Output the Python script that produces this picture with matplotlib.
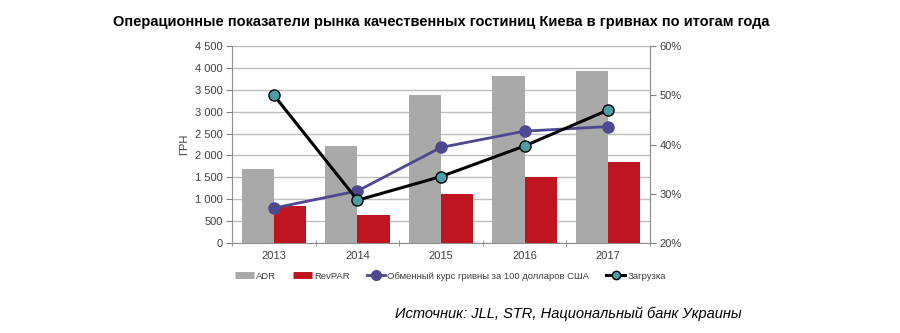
import matplotlib
matplotlib.use("Agg")
import matplotlib.pyplot as plt
from matplotlib.lines import Line2D
from matplotlib.ticker import FuncFormatter, MultipleLocator
import numpy as np

plt.rcParams['font.family'] = ['Liberation Sans', 'DejaVu Sans']

years = ["2013", "2014", "2015", "2016", "2017"]
adr = [1680, 2210, 3380, 3820, 3920]
revpar = [840, 640, 1130, 1520, 1840]
fx_rate = [800, 1190, 2184, 2555, 2660]
occupancy = [50.0, 28.7, 33.5, 39.7, 47.0]

title = "Операционные показатели рынка качественных гостиниц Киева в гривнах по итогам года"
ylabel = "ГРН"
legend_labels = ["ADR", "RevPAR", "Обменный курс гривны за 100 долларов США", "Загрузка"]
source = "Источник: JLL, STR, Национальный банк Украины"

c_adr = "#A9A9A9"
c_rev = "#BF1520"
c_fx = "#4E4891"
c_occ_face = "#4A9EA6"
tick_col = "#404040"
grid_col = "#BEBEBE"

fig = plt.figure(figsize=(9, 3.33), dpi=100)
ax = fig.add_axes([0.258, 0.27, 0.464, 0.592])
ax2 = ax.twinx()

x = np.arange(len(years))
w = 0.385
ax.bar(x - w / 2, adr, width=w, color=c_adr, zorder=2)
ax.bar(x + w / 2, revpar, width=w, color=c_rev, zorder=2)
ax.plot(x, fx_rate, color=c_fx, lw=2, marker="o", ms=8, mfc=c_fx, mec=c_fx, zorder=3)

ax.set_xlim(-0.5, len(years) - 0.5)
ax.set_ylim(0, 4500)
ax.yaxis.set_major_locator(MultipleLocator(500))
ax.yaxis.set_major_formatter(FuncFormatter(lambda v, p: f"{int(v):,}".replace(",", " ")))
ax.grid(axis="y", color=grid_col, lw=1, zorder=0)
ax.set_axisbelow(True)
ax.set_xticks(x)
ax.set_xticklabels(years)
ax.set_xticks(np.arange(-0.5, len(years)), minor=True)
ax.tick_params(axis="x", which="major", length=0, labelsize=8, colors=tick_col, pad=6)
ax.tick_params(axis="x", which="minor", length=5, color="#808080", direction="inout")
ax.tick_params(axis="y", length=4, color="#808080", labelsize=8, labelcolor=tick_col, pad=3)
ax.spines["top"].set_visible(False)
for s in ["left", "bottom", "right"]:
    ax.spines[s].set_color("#909090")
ax.set_ylabel(ylabel, fontsize=8, color=tick_col, labelpad=4)

ax2.plot(x, occupancy, color="black", lw=2.2, marker="o", ms=8, mfc=c_occ_face, mec="black", mew=1, zorder=4)
ax2.set_ylim(20, 60)
ax2.yaxis.set_major_locator(MultipleLocator(10))
ax2.yaxis.set_major_formatter(FuncFormatter(lambda v, p: f"{int(v)}%"))
ax2.tick_params(axis="y", length=4, color="#808080", labelsize=8, labelcolor=tick_col, pad=3)
ax2.spines["top"].set_visible(False)
ax2.spines["left"].set_visible(False)
ax2.spines["bottom"].set_visible(False)
ax2.spines["right"].set_color("#909090")

handles = [
    Line2D([], [], color=c_adr, lw=5, solid_capstyle="butt"),
    Line2D([], [], color=c_rev, lw=5, solid_capstyle="butt"),
    Line2D([], [], color=c_fx, lw=2, marker="o", ms=7, mfc=c_fx, mec=c_fx),
    Line2D([], [], color="black", lw=2.2, marker="o", ms=6, mfc=c_occ_face, mec="black"),
]
fig.legend(handles, legend_labels, loc="center left", bbox_to_anchor=(0.252, 0.171),
           ncol=4, frameon=False, fontsize=6.8, handlelength=2.0, handletextpad=0.2,
           columnspacing=1.8, labelcolor=tick_col)

fig.text(0.49, 0.935, title, ha="center", va="center", fontsize=10.5, fontweight="bold")
fig.text(0.824, 0.057, source, ha="right", va="center", fontsize=10.5, style="italic")

fig.savefig("out.png", dpi=100)
